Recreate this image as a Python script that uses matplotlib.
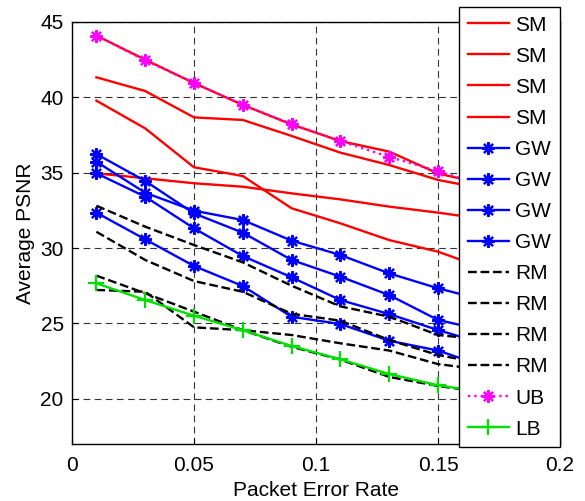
import numpy as np
import matplotlib
matplotlib.use('Agg')
import matplotlib.pyplot as plt

plt.rcParams['font.family'] = ['Liberation Sans', 'DejaVu Sans']

per = [0.01, 0.03, 0.05, 0.07, 0.09, 0.11, 0.13, 0.15, 0.17]

# SM curves (red)
sm1 = [44.1, 42.5, 40.95, 39.5, 38.2, 37.1, 36.4, 34.95, 34.2]
sm2 = [41.33, 40.42, 38.67, 38.5, 37.44, 36.33, 35.51, 34.52, 33.9]
sm3 = [39.78, 37.94, 35.36, 34.78, 32.64, 31.64, 30.53, 29.76, 28.6]
sm4 = [34.96, 34.63, 34.3, 34.07, 33.63, 33.23, 32.75, 32.35, 31.9]

# GW curves (blue, asterisk)
gw1 = [36.24, 34.45, 32.3, 31.02, 29.21, 28.1, 26.88, 25.23, 24.5]
gw2 = [35.73, 33.67, 32.48, 31.86, 30.49, 29.54, 28.32, 27.33, 26.5]
gw3 = [34.96, 33.41, 31.31, 29.47, 28.06, 26.55, 25.62, 24.56, 23.6]
gw4 = [32.35, 30.58, 28.81, 27.48, 25.44, 24.96, 23.85, 23.2, 22.1]

# RM curves (black dashed)
rm1 = [32.81, 31.42, 30.2, 29.05, 27.5, 26.13, 25.45, 24.23, 23.9]
rm2 = [31.08, 29.21, 27.81, 27.1, 25.64, 25.18, 23.9, 22.9, 22.3]
rm3 = [28.17, 27.0, 25.78, 24.55, 23.45, 22.6, 21.45, 20.85, 20.4]
rm4 = [27.22, 27.1, 24.74, 24.55, 24.23, 23.68, 23.2, 22.3, 21.9]

# bounds
ub = [44.1, 42.45, 40.95, 39.5, 38.25, 37.1, 36.05, 35.1, 34.1]
lb = [27.66, 26.55, 25.51, 24.55, 23.5, 22.62, 21.64, 20.9, 20.4]

fig = plt.figure(figsize=(5.85, 5.01), dpi=100)
ax = fig.add_axes([0.1231, 0.1138, 0.8342, 0.8423])

lw = 1.7
ast = (8, 2, 0)
for s in [sm1, sm2, sm3, sm4]:
    ax.plot(per, s, color='red', lw=lw, label='SM')
for s in [gw1, gw2, gw3, gw4]:
    ax.plot(per, s, color='blue', lw=lw, marker=ast, ms=9, mew=1.6, label='GW')
for s in [rm1, rm2, rm3, rm4]:
    ax.plot(per, s, color='black', lw=lw, ls='--', label='RM')
ax.plot(per, ub, color='magenta', lw=lw, ls=':', marker=ast, ms=9, mew=1.6, label='UB')
ax.plot(per, lb, color='#00e000', lw=lw, marker='+', ms=11, mew=1.6, label='LB')

ax.set_xlim(0, 0.2)
ax.set_ylim(17, 45)
ax.set_xticks([0, 0.05, 0.1, 0.15, 0.2])
ax.set_xticklabels(['0', '0.05', '0.1', '0.15', '0.2'])
ax.set_yticks([20, 25, 30, 35, 40, 45])
ax.tick_params(direction='in', labelsize=15, length=4, width=0.8)
ax.tick_params(axis='x', pad=9)
ax.tick_params(axis='y', pad=6)
ax.grid(True, color='#333333', ls=(0, (6, 4)), lw=0.8)
for sp in ax.spines.values():
    sp.set_linewidth(1.0)

ax.set_xlabel('Packet Error Rate', fontsize=15, labelpad=4)
ax.set_ylabel('Average PSNR', fontsize=15, labelpad=4)

leg = ax.legend(loc='upper left', bbox_to_anchor=(459 / 585, 1 - 7 / 501),
                bbox_transform=fig.transFigure, fontsize=15, frameon=True,
                fancybox=False, framealpha=1, edgecolor='black',
                handlelength=2.0, handletextpad=0.3, labelspacing=0.58,
                borderpad=0.41, borderaxespad=0)
leg.get_frame().set_linewidth(1.0)
leg.set_zorder(10)

fig.savefig('out.png', dpi=100)
